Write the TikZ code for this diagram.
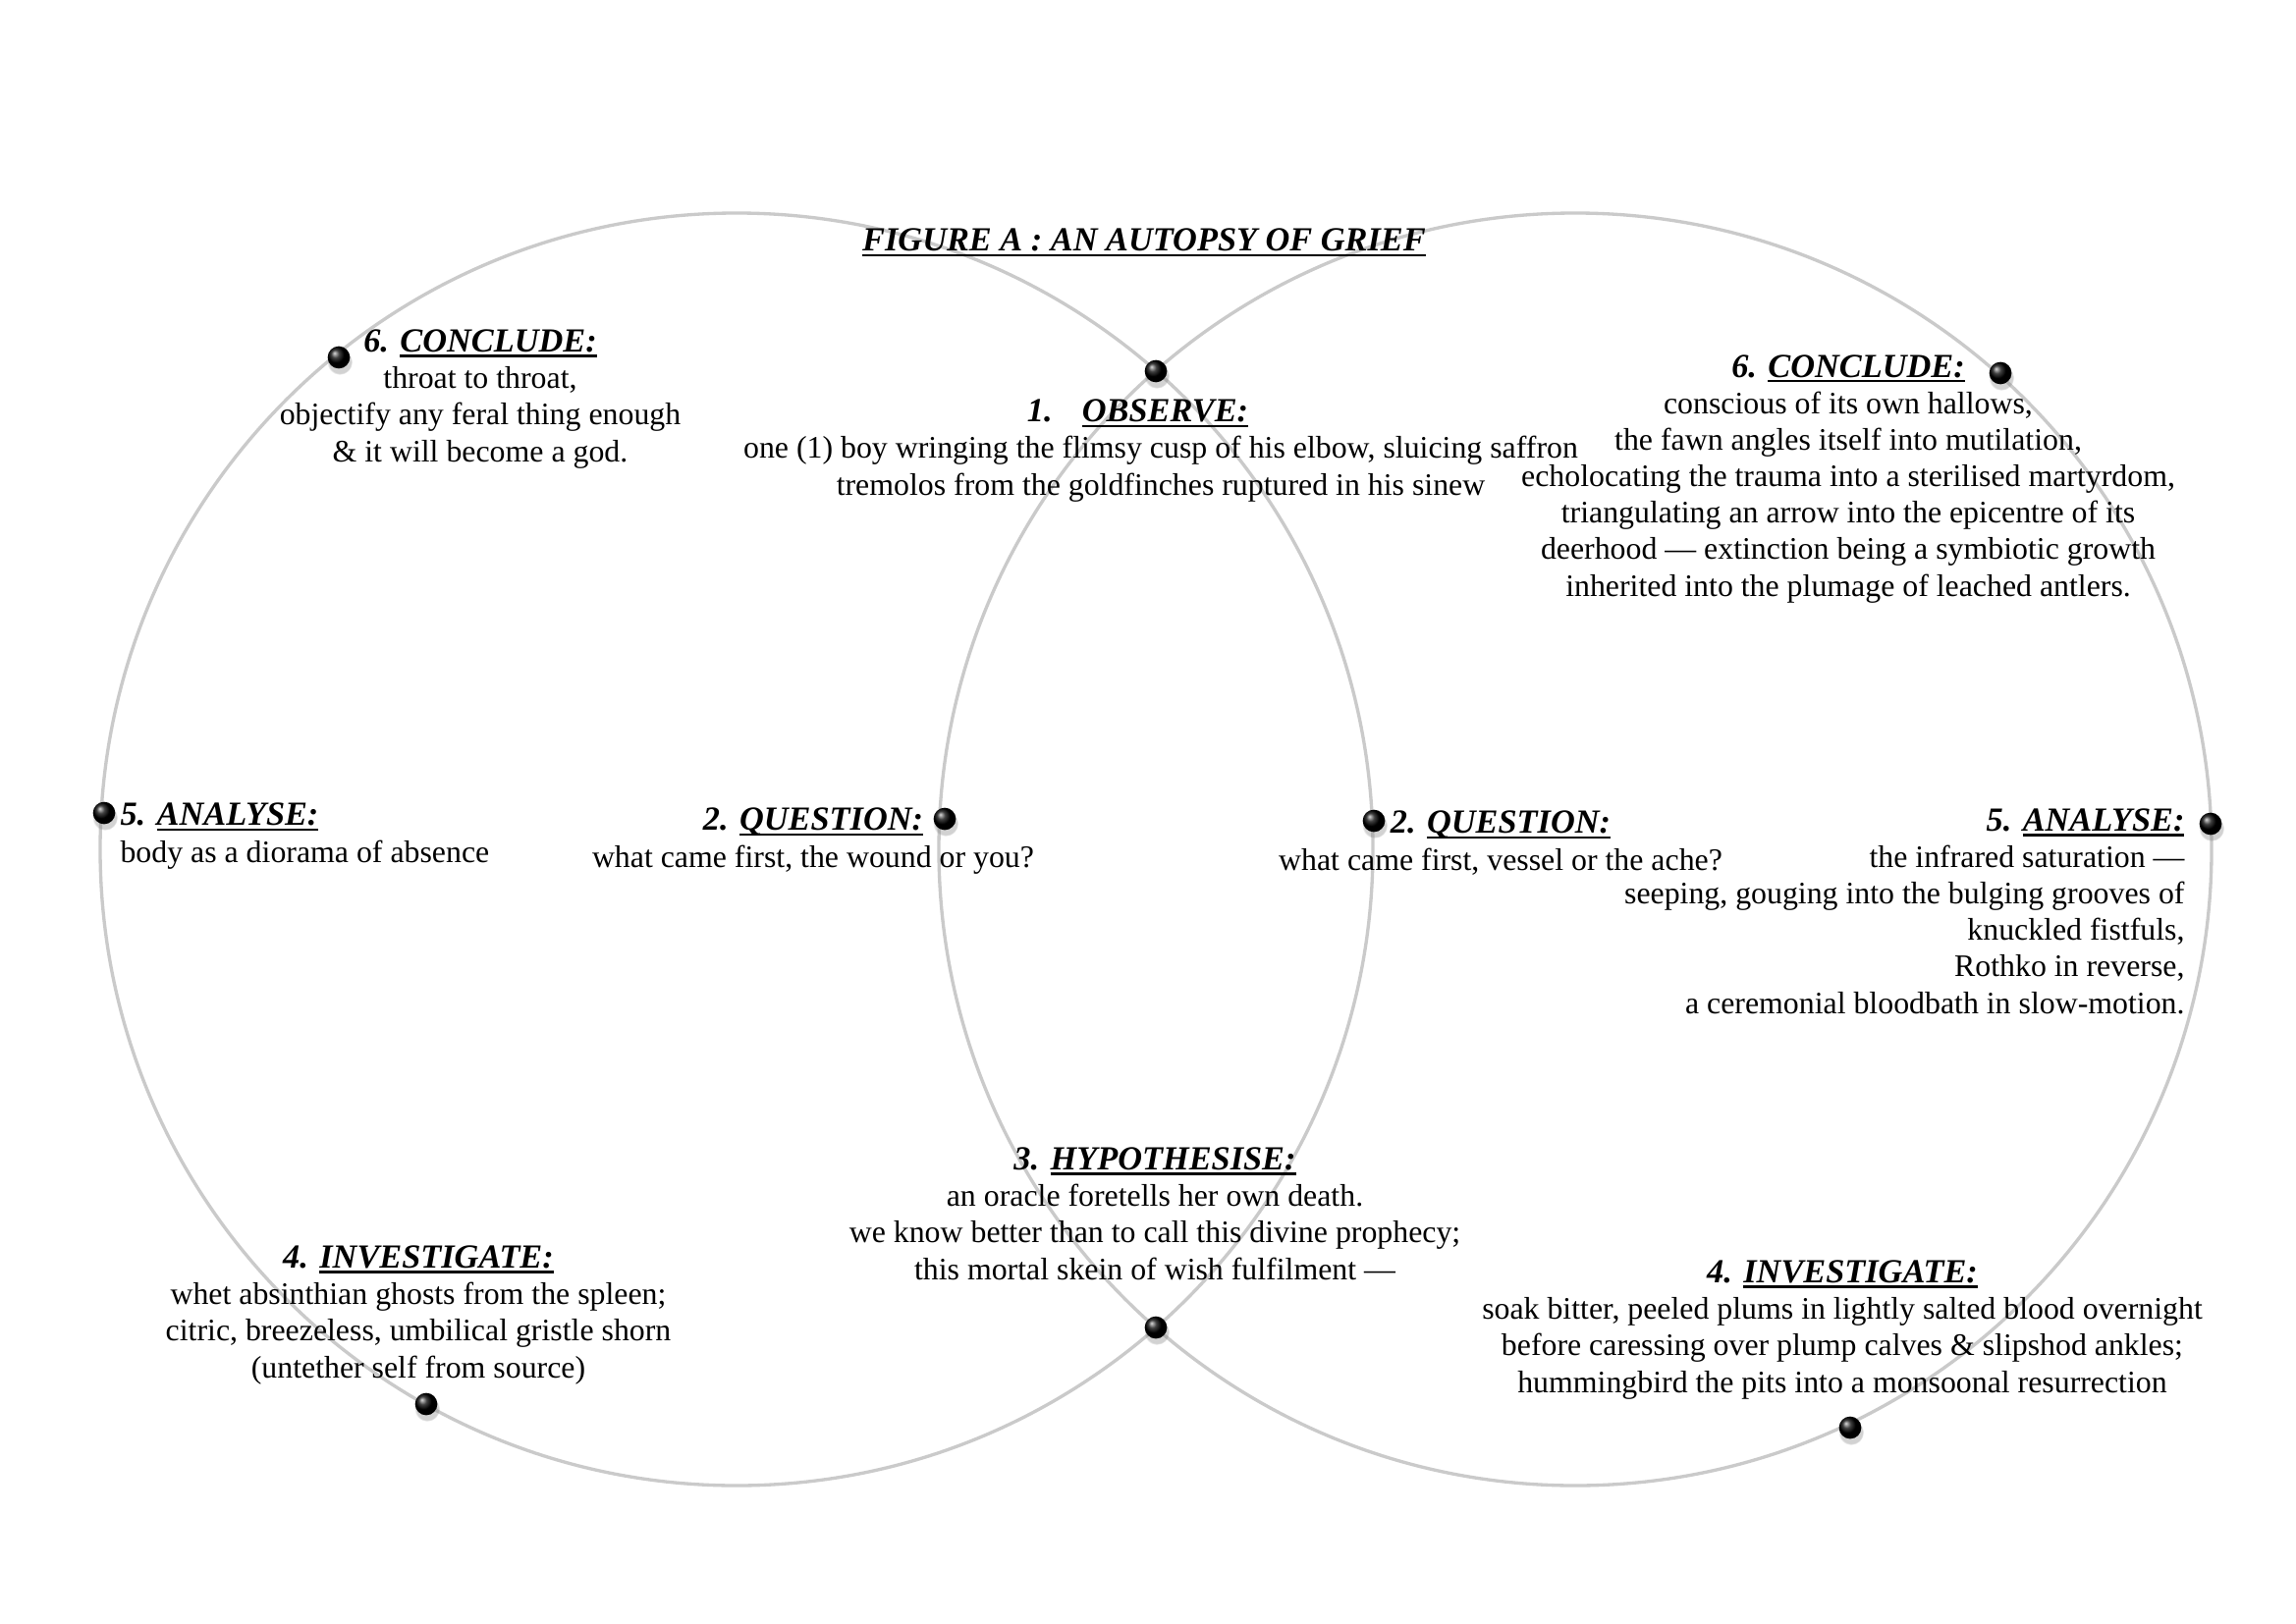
\documentclass[tikz,border=0pt]{standalone}
\usepackage{fontspec}
\setmainfont{Liberation Serif}
\usetikzlibrary{shadows,fadings}
\definecolor{ringgray}{RGB}{202,202,202}
\newlength\ulw
\newcommand\ulx[1]{\settowidth\ulw{#1}\rlap{\rule[-1.8pt]{\ulw}{0.8pt}}#1}
\newcommand\hd[2]{{\fontsize{12.4}{13.4}\selectfont\textbf{\textit{#1 \ulx{#2}}}}}
\begin{document}
\begin{tikzpicture}[x=0.3612pt,y=-0.3612pt,
  ring/.style={draw=ringgray, line width=1.2pt},
  dot/.style={circle, inner sep=0pt, minimum size=8.2pt, ball color=black,
    circular drop shadow={shadow xshift=0.3pt, shadow yshift=-1.5pt, opacity=0.35, shadow scale=1.15}},
  txt/.style={inner sep=0pt, font=\fontsize{11.5}{13.4}\selectfont, anchor=base},
]
\useasboundingbox[fill=white] (0,0) rectangle (2338,1653);
% circles
\draw[ring] (750,865) circle [radius=648];
\draw[ring] (1604,865) circle [radius=648];
% dots
\node[dot] (dtop) at (1177,378) {};
\node[dot] (dbot) at (1177,1352) {};
\node[dot] (dl6) at (345,364) {};
\node[dot] (dl5) at (106,828) {};
\node[dot] (dl2) at (962,834) {};
\node[dot] (dl4) at (434,1430) {};
\node[dot] (dr2) at (1399,836) {};
\node[dot] (dr6) at (2037,380) {};
\node[dot] (dr5) at (2251,839) {};
\node[dot] (dr4) at (1884,1454) {};
% texts (anchor = baseline of last line)
\node[txt] (title) at (1165,256) {\fontsize{12.4}{13.4}\selectfont\textbf{\textit{\ulx{FIGURE A : AN AUTOPSY OF GRIEF}}}};
\node[txt, align=center] (lconc) at (489,470) {\hd{6.}{CONCLUDE:}\\ throat to throat,\\ objectify any feral thing enough\\ \& it will become a god.};
\node[txt, align=left, anchor=base west] (lanal) at (122,878) {\hd{5.}{ANALYSE:}\\ body as a diorama of absence};
\node[txt, align=center] (lques) at (828,883) {\hd{2.}{QUESTION:}\\ what came first, the wound or you?};
\node[txt, align=center] (linv) at (426,1403) {\hd{4.}{INVESTIGATE:}\\ whet absinthian ghosts from the spleen;\\ citric, breezeless, umbilical gristle shorn\\ (untether self from source)};
\node[txt, align=center] (obs) at (1182,504) {\hd{1.\hspace{0.55em}}{OBSERVE:}\hspace*{17pt}\\ one (1) boy wringing the flimsy cusp of his elbow, sluicing saffron\\ tremolos from the goldfinches ruptured in his sinew};
\node[txt, align=center] (hyp) at (1176,1303) {\hd{3.}{HYPOTHESISE:}\\ an oracle foretells her own death.\\ we know better than to call this divine prophecy;\\ this mortal skein of wish fulfilment ---};
\node[txt, align=center] (rconc) at (1882,607) {\hd{6.}{CONCLUDE:}\\ conscious of its own hallows,\\ the fawn angles itself into mutilation,\\ echolocating the trauma into a sterilised martyrdom,\\ triangulating an arrow into the epicentre of its\\ deerhood --- extinction being a symbiotic growth\\ inherited into the plumage of leached antlers.};
\node[txt, align=center] (rques) at (1528,886) {\hd{2.}{QUESTION:}\\ what came first, vessel or the ache?};
\node[txt, align=right, anchor=base east] (ranal) at (2225,1032) {\hd{5.}{ANALYSE:}\\ the infrared saturation ---\\ seeping, gouging into the bulging grooves of\\ knuckled fistfuls,\\ Rothko in reverse,\\ a ceremonial bloodbath in slow-motion.};
\node[txt, align=center] (rinv) at (1876,1418) {\hd{4.}{INVESTIGATE:}\\ soak bitter, peeled plums in lightly salted blood overnight\\ before caressing over plump calves \& slipshod ankles;\\ hummingbird the pits into a monsoonal resurrection};
\end{tikzpicture}
\end{document}
